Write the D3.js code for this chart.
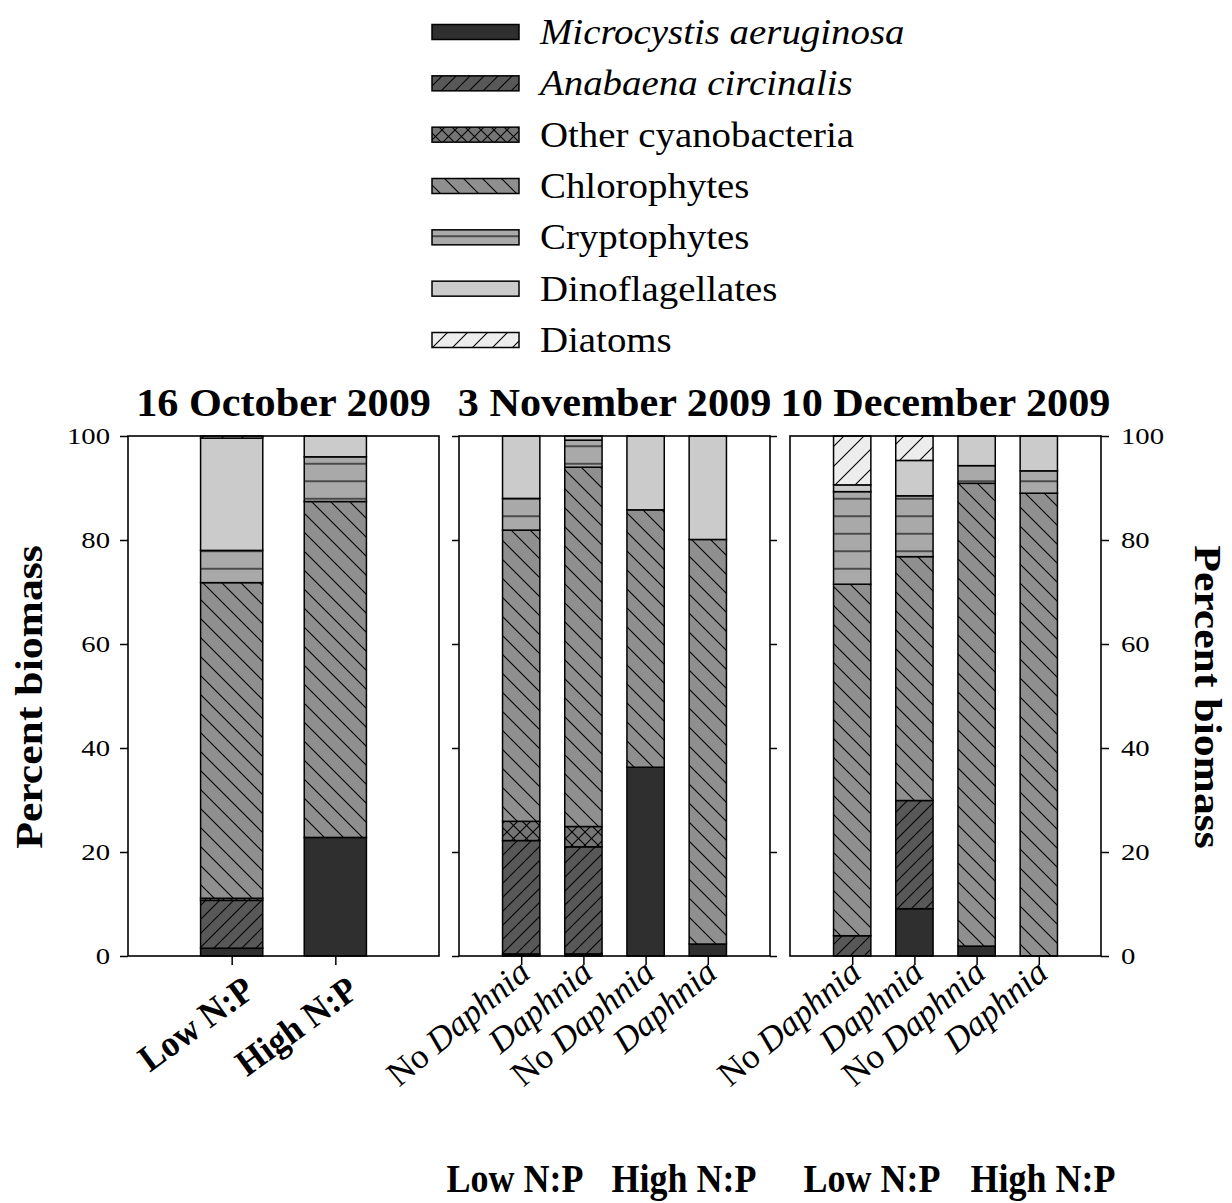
<!DOCTYPE html>
<html>
<head>
<meta charset="utf-8">
<script src="https://cdn.jsdelivr.net/npm/d3@7"></script>
<style>
  body { margin: 0; background: #fff; }
  svg { display: block; }
  text { font-family: "Liberation Serif", "Times New Roman", serif; fill: #000; }
</style>
</head>
<body>
<svg id="chart" width="1232" height="1203"></svg>
<script>
// ---- data: percent of total phytoplankton biomass per treatment ----
const seriesKeys = ["microcystis", "anabaena", "otherCyano", "chlorophytes", "cryptophytes", "dinoflagellates", "diatoms"];
const seriesLabels = ["Microcystis aeruginosa", "Anabaena circinalis", "Other cyanobacteria", "Chlorophytes", "Cryptophytes", "Dinoflagellates", "Diatoms"];
const seriesItalic = [true, true, false, false, false, false, false];

const panelTitles = ["16 October 2009", "3 November 2009", "10 December 2009"];
const octoberCategories = ["Low N:P", "High N:P"];
const novemberCategories = ["No Daphnia", "Daphnia", "No Daphnia", "Daphnia"];
const decemberCategories = ["No Daphnia", "Daphnia", "No Daphnia", "Daphnia"];
const nutrientGroups = ["Low N:P", "High N:P"];
const yTickValues = [0, 20, 40, 60, 80, 100];

// one value per bar: Oct (Low, High), Nov (4 bars), Dec (4 bars)
const microcystis     = [1.5, 22.8, 0.4, 0.4, 36.3, 2.3, 0.0, 9.1, 1.9, 0.0];
const anabaena        = [9.2, 0.0, 21.8, 20.6, 0.0, 0.0, 3.9, 20.8, 0.0, 0.0];
const otherCyano      = [0.4, 0.0, 3.7, 3.9, 0.0, 0.0, 0.0, 0.0, 0.0, 0.0];
const chlorophytes    = [60.7, 64.6, 56.0, 69.1, 49.5, 77.8, 67.6, 46.9, 89.0, 89.0];
const cryptophytes    = [6.2, 8.6, 6.1, 5.2, 0.0, 0.0, 17.8, 11.7, 3.4, 4.3];
const dinoflagellates = [21.6, 4.0, 12.0, 0.8, 14.2, 19.9, 1.3, 6.8, 5.7, 6.7];
const diatoms         = [0.4, 0.0, 0.0, 0.0, 0.0, 0.0, 9.4, 4.7, 0.0, 0.0];

// ---- layout ----
const panelRanges = [[128, 439], [459, 770], [790, 1101]];
const plotTop = 436, plotBottom = 956;
const FONT = '"Liberation Serif", "Times New Roman", serif';

const svg = d3.select("#chart");
const defs = svg.append("defs");

// hatch fills
function hatch(id, fill, size, paths) {
  const p = defs.append("pattern").attr("id", id)
    .attr("patternUnits", "userSpaceOnUse").attr("width", size).attr("height", size);
  p.append("rect").attr("width", size).attr("height", size).attr("fill", fill);
  paths.forEach(d => p.append("path").attr("d", d).attr("stroke", "#000")
    .attr("stroke-width", 1.1).attr("fill", "none"));
}
const s1 = 14, s2 = 19, s3 = 13, s4 = 17.5, s5 = 20;
hatch("pat-anabaena", "#585858", s1, [`M0,${s1} L${s1},0`, `M${-s1/2},${s1/2} L${s1/2},${-s1/2}`, `M${s1/2},${s1*1.5} L${s1*1.5},${s1/2}`]);
hatch("pat-other", "#757575", s3, [`M0,${s3} L${s3},0`, `M0,0 L${s3},${s3}`]);
hatch("pat-chloro", "#8f8f8f", s2, [`M0,0 L${s2},${s2}`, `M${-s2/2},${s2/2} L${s2/2},${s2*1.5}`, `M${s2/2},${-s2/2} L${s2*1.5},${s2/2}`]);
hatch("pat-crypto", "#a9a9a9", s4, [`M0,${s4/2} L${s4},${s4/2}`]);
hatch("pat-diatom", "#ededed", s5, [`M0,${s5} L${s5},0`, `M${-s5/2},${s5/2} L${s5/2},${-s5/2}`, `M${s5/2},${s5*1.5} L${s5*1.5},${s5/2}`]);

const seriesFill = {
  microcystis: "#2f2f2f",
  anabaena: "url(#pat-anabaena)",
  otherCyano: "url(#pat-other)",
  chlorophytes: "url(#pat-chloro)",
  cryptophytes: "url(#pat-crypto)",
  dinoflagellates: "#cbcbcb",
  diatoms: "url(#pat-diatom)"
};

// table of bars
const seriesValues = { microcystis, anabaena, otherCyano, chlorophytes, cryptophytes, dinoflagellates, diatoms };
const rows = microcystis.map((_, i) => {
  const r = { bar: i };
  seriesKeys.forEach(k => r[k] = seriesValues[k][i]);
  return r;
});
const stacked = d3.stack().keys(seriesKeys)(rows);

const y = d3.scaleLinear().domain([0, 100]).range([plotBottom, plotTop]);

const panelCategories = [octoberCategories, novemberCategories, decemberCategories];
let offset = 0;
panelCategories.forEach((cats, p) => {
  const idx = d3.range(offset, offset + cats.length);
  const x = d3.scalePoint().domain(idx).range(panelRanges[p]).padding(1);
  const bw = x.step() * 0.6;
  const g = svg.append("g");

  // stacked bars
  stacked.forEach(layer => {
    g.selectAll(null)
      .data(layer.filter(d => idx.includes(d.data.bar) && d[1] - d[0] > 0))
      .join("rect")
      .attr("x", d => x(d.data.bar) - bw / 2)
      .attr("y", d => y(d[1]))
      .attr("width", bw)
      .attr("height", d => y(d[0]) - y(d[1]))
      .attr("fill", seriesFill[layer.key])
      .attr("stroke", "#000")
      .attr("stroke-width", 1.5);
  });

  // frame
  g.append("rect")
    .attr("x", panelRanges[p][0]).attr("y", plotTop)
    .attr("width", panelRanges[p][1] - panelRanges[p][0])
    .attr("height", plotBottom - plotTop)
    .attr("fill", "none").attr("stroke", "#000").attr("stroke-width", 1.6);

  // x ticks
  const xAxis = g.append("g").attr("transform", `translate(0,${plotBottom})`)
    .call(d3.axisBottom(x).tickSize(9).tickFormat(""));
  xAxis.select(".domain").remove();
  xAxis.selectAll("line").attr("stroke-width", 1.5);

  // title
  g.append("text")
    .attr("transform", `translate(${(panelRanges[p][0] + panelRanges[p][1]) / 2},416) scale(1.03,1)`)
    .attr("text-anchor", "middle")
    .attr("font-weight", "bold").attr("font-size", 41)
    .text(panelTitles[p]);

  // category labels
  cats.forEach((c, j) => {
    const cx = x(idx[j]);
    if (p === 0) {
      g.append("text")
        .attr("transform", `translate(${cx + 25},995) rotate(-36) scale(0.94,1)`)
        .attr("text-anchor", "end")
        .attr("font-weight", "bold").attr("font-size", 37)
        .text(c);
    } else {
      const t = g.append("text")
        .attr("transform", `translate(${cx + 11},976) rotate(-40)`)
        .attr("text-anchor", "end")
        .attr("font-size", 35);
      const parts = c.split("Daphnia");
      if (parts[0]) t.append("tspan").text(parts[0]);
      t.append("tspan").attr("font-style", "italic").text("Daphnia");
    }
  });

  offset += cats.length;
});

// y axes
function styleAxis(sel) {
  sel.select(".domain").remove();
  sel.selectAll("line").attr("stroke-width", 1.5);
  sel.selectAll("text").attr("font-family", FONT).attr("font-size", 23).attr("fill", "#000");
}
const leftAxis = svg.append("g").attr("transform", `translate(${panelRanges[0][0]},0)`)
  .call(d3.axisLeft(y).tickValues(yTickValues).tickSize(8).tickPadding(6.4));
styleAxis(leftAxis);
leftAxis.selectAll("text").attr("transform", "scale(1.25,1)");

const midLeft = svg.append("g").attr("transform", `translate(${panelRanges[1][0]},0)`)
  .call(d3.axisLeft(y).tickValues(yTickValues).tickSize(7).tickFormat(""));
styleAxis(midLeft);
const midRight = svg.append("g").attr("transform", `translate(${panelRanges[1][1]},0)`)
  .call(d3.axisRight(y).tickValues(yTickValues).tickSize(7).tickFormat(""));
styleAxis(midRight);

const rightAxis = svg.append("g").attr("transform", `translate(${panelRanges[2][1]},0)`)
  .call(d3.axisRight(y).tickValues(yTickValues).tickSize(8).tickPadding(8));
styleAxis(rightAxis);
rightAxis.selectAll("text").attr("transform", "scale(1.25,1)");

// axis titles
svg.append("text")
  .attr("transform", `translate(42,697) rotate(-90) scale(1.12,1)`)
  .attr("text-anchor", "middle").attr("font-weight", "bold").attr("font-size", 39)
  .text("Percent biomass");
svg.append("text")
  .attr("transform", `translate(1195,697) rotate(90) scale(1.12,1)`)
  .attr("text-anchor", "middle").attr("font-weight", "bold").attr("font-size", 39)
  .text("Percent biomass");

// nutrient group labels under the Daphnia panels
const groupCenters = [[515, 684], [872, 1043]];
groupCenters.forEach(pair => pair.forEach((cx, k) => {
  svg.append("text")
    .attr("transform", `translate(${cx},1192) scale(0.9,1)`)
    .attr("text-anchor", "middle")
    .attr("font-weight", "bold").attr("font-size", 40)
    .text(nutrientGroups[k]);
}));

// legend
const legend = svg.append("g");
const rowY = d3.scaleLinear().domain([0, seriesKeys.length - 1]).range([32, 340]);
seriesKeys.forEach((k, i) => {
  const cy = rowY(i);
  legend.append("rect")
    .attr("x", 432).attr("y", cy - 7.5).attr("width", 87).attr("height", 15)
    .attr("fill", seriesFill[k]).attr("stroke", "#000").attr("stroke-width", 1.5);
  legend.append("text")
    .attr("transform", `translate(540,${cy + 12}) scale(1.08,1)`)
    .attr("font-size", 36)
    .attr("font-style", seriesItalic[i] ? "italic" : "normal")
    .text(seriesLabels[i]);
});
</script>
</body>
</html>
